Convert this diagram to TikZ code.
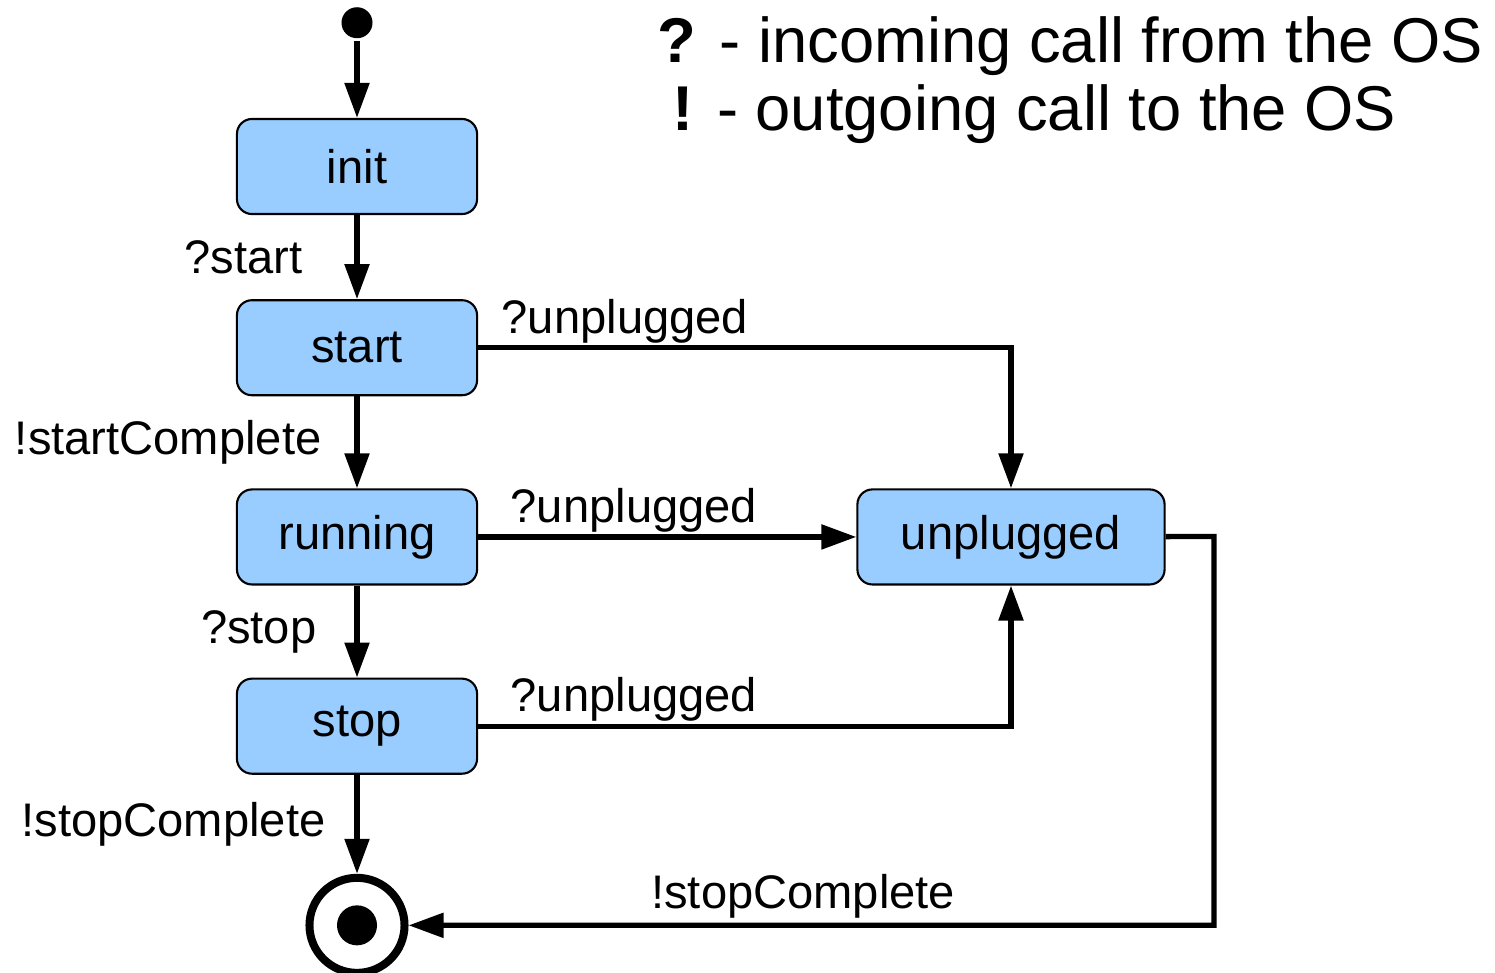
\documentclass[tikz,border=0pt]{standalone}
\usepackage{fontspec}
\setmainfont{Liberation Sans}
\usetikzlibrary{arrows.meta,positioning}
\definecolor{lb}{RGB}{153,204,255}
\tikzstyle{phase}=[draw,fill=lb,rounded corners=0.15cm,line width=0.6pt,minimum width=2.4cm,minimum height=0.95cm,font=\fontsize{13.4}{16}\selectfont]
\tikzstyle{lbl}=[inner sep=0pt,font=\fontsize{13.4}{16}\selectfont]
\tikzstyle{legend}=[inner sep=0pt,anchor=base west,font=\fontsize{18}{22}\selectfont]

\begin{document}
\begin{tikzpicture}[->,>={Triangle[length=0.35cm,width=0.24cm]},line width=1.5pt,x=0.01cm,y=-0.01cm]
	\useasboundingbox (0,0) rectangle (1495,972);

	\draw node[phase] at (357,166.5) (init) {init};
	\draw node[circle,fill,inner sep=0pt,minimum size=0.31cm,above=0.77cm of init] (entry) {};
	\draw node[phase,below=0.84cm of init] (start) {start};
	\draw node[phase,below=0.92cm of start] (running) {running};
	\draw node[phase,below=0.92cm of running] (stop) {stop};
	\draw node[phase,minimum width=3.07cm,right=3.78cm of running] (unplugged) {unplugged};
	\draw node[circle,draw,line width=0.08cm,inner sep=0pt,minimum size=0.95cm,below=0.99cm of stop] (exit) {};
	\draw node[circle,fill,inner sep=0pt,minimum size=0.4cm] at (exit) (exitdot) {};
	\coordinate (turn) at (1214,536.5);

	% legend
	\draw node[legend] at (655,62) (inc) {\textbf{?} - incoming call from the OS};
	\draw node[legend] at (670,130) (out) {\textbf{!} - outgoing call to the OS};

	\path
	(entry) edge (init)
	(init) edge node[lbl,left=0.52cm] {?start} (start)
	(start) edge node[lbl,left=0.33cm] {!startComplete} (running)
	(running) edge node[lbl,left=0.38cm] {?stop} (stop)
	(stop) edge node[lbl,left=0.29cm] {!stopComplete} (exit)
	(running) edge node[lbl,pos=0,above right=0.02cm and 0.30cm] {?unplugged} (unplugged)
	;

	\draw (start) -| node[lbl,pos=0,above right=0.02cm and 0.21cm] {?unplugged} (unplugged);
	\draw (stop) -| node[lbl,pos=0,above right=0.02cm and 0.30cm] {?unplugged} (unplugged);
	\draw (unplugged) -- (turn) |- node[lbl,pos=0.755,above=0.04cm] {!stopComplete} (exit);
\end{tikzpicture}
\end{document}
